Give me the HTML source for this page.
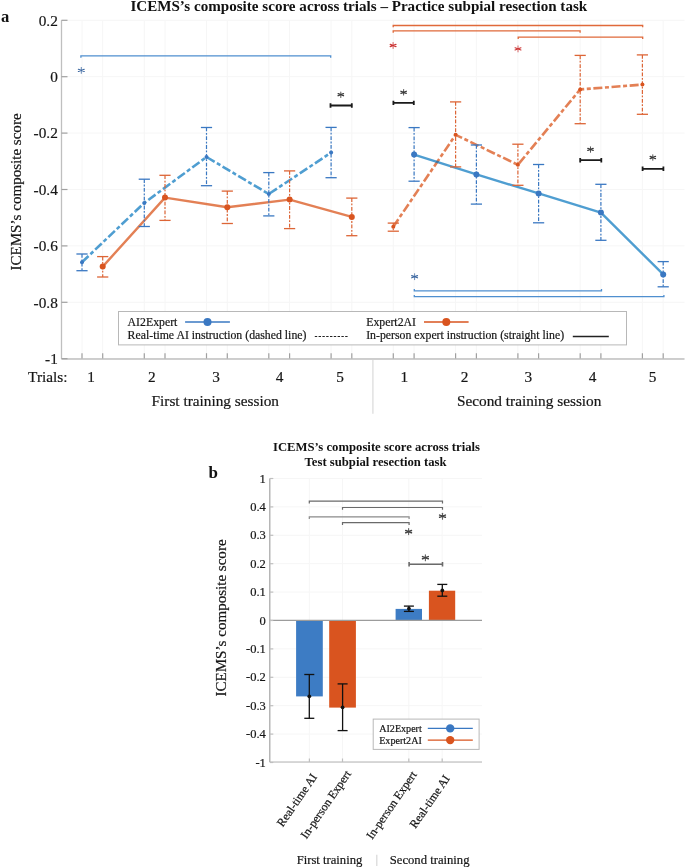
<!DOCTYPE html>
<html><head><meta charset="utf-8"><style>
html,body{margin:0;padding:0;background:#fff;}
svg{display:block;font-family:"Liberation Serif", serif;will-change:transform;}
text:not([font-weight]){stroke:#161616;stroke-width:0.2px;}
</style></head><body>
<svg width="685" height="868" viewBox="0 0 685 868">
<rect width="685" height="868" fill="#fff"/>
<line x1="61.5" y1="20.3" x2="684.5" y2="20.3" stroke="#f6f6f6" stroke-width="1"/>
<line x1="61.5" y1="76.7" x2="684.5" y2="76.7" stroke="#f6f6f6" stroke-width="1"/>
<line x1="61.5" y1="133.1" x2="684.5" y2="133.1" stroke="#f6f6f6" stroke-width="1"/>
<line x1="61.5" y1="189.5" x2="684.5" y2="189.5" stroke="#f6f6f6" stroke-width="1"/>
<line x1="61.5" y1="245.9" x2="684.5" y2="245.9" stroke="#f6f6f6" stroke-width="1"/>
<line x1="61.5" y1="302.3" x2="684.5" y2="302.3" stroke="#f6f6f6" stroke-width="1"/>
<line x1="61.5" y1="358.7" x2="684.5" y2="358.7" stroke="#f6f6f6" stroke-width="1"/>
<line x1="82.0" y1="20.3" x2="82.0" y2="358.7" stroke="#f6f6f6" stroke-width="1"/>
<line x1="102.7" y1="20.3" x2="102.7" y2="358.7" stroke="#f6f6f6" stroke-width="1"/>
<line x1="144.3" y1="20.3" x2="144.3" y2="358.7" stroke="#f6f6f6" stroke-width="1"/>
<line x1="165.0" y1="20.3" x2="165.0" y2="358.7" stroke="#f6f6f6" stroke-width="1"/>
<line x1="206.5" y1="20.3" x2="206.5" y2="358.7" stroke="#f6f6f6" stroke-width="1"/>
<line x1="227.3" y1="20.3" x2="227.3" y2="358.7" stroke="#f6f6f6" stroke-width="1"/>
<line x1="268.8" y1="20.3" x2="268.8" y2="358.7" stroke="#f6f6f6" stroke-width="1"/>
<line x1="289.6" y1="20.3" x2="289.6" y2="358.7" stroke="#f6f6f6" stroke-width="1"/>
<line x1="331.1" y1="20.3" x2="331.1" y2="358.7" stroke="#f6f6f6" stroke-width="1"/>
<line x1="351.8" y1="20.3" x2="351.8" y2="358.7" stroke="#f6f6f6" stroke-width="1"/>
<line x1="393.3" y1="20.3" x2="393.3" y2="358.7" stroke="#f6f6f6" stroke-width="1"/>
<line x1="414.1" y1="20.3" x2="414.1" y2="358.7" stroke="#f6f6f6" stroke-width="1"/>
<line x1="455.6" y1="20.3" x2="455.6" y2="358.7" stroke="#f6f6f6" stroke-width="1"/>
<line x1="476.4" y1="20.3" x2="476.4" y2="358.7" stroke="#f6f6f6" stroke-width="1"/>
<line x1="517.9" y1="20.3" x2="517.9" y2="358.7" stroke="#f6f6f6" stroke-width="1"/>
<line x1="538.6" y1="20.3" x2="538.6" y2="358.7" stroke="#f6f6f6" stroke-width="1"/>
<line x1="580.2" y1="20.3" x2="580.2" y2="358.7" stroke="#f6f6f6" stroke-width="1"/>
<line x1="600.9" y1="20.3" x2="600.9" y2="358.7" stroke="#f6f6f6" stroke-width="1"/>
<line x1="642.4" y1="20.3" x2="642.4" y2="358.7" stroke="#f6f6f6" stroke-width="1"/>
<line x1="663.2" y1="20.3" x2="663.2" y2="358.7" stroke="#f6f6f6" stroke-width="1"/>
<line x1="61.5" y1="20.3" x2="61.5" y2="358.7" stroke="#bfbfbf" stroke-width="1.3"/>
<line x1="61.5" y1="359" x2="684.5" y2="359" stroke="#bfbfbf" stroke-width="1.3"/>
<line x1="61.5" y1="20.3" x2="67.5" y2="20.3" stroke="#a0a0a0" stroke-width="1.2"/>
<line x1="61.5" y1="76.7" x2="67.5" y2="76.7" stroke="#a0a0a0" stroke-width="1.2"/>
<line x1="61.5" y1="133.1" x2="67.5" y2="133.1" stroke="#a0a0a0" stroke-width="1.2"/>
<line x1="61.5" y1="189.5" x2="67.5" y2="189.5" stroke="#a0a0a0" stroke-width="1.2"/>
<line x1="61.5" y1="245.9" x2="67.5" y2="245.9" stroke="#a0a0a0" stroke-width="1.2"/>
<line x1="61.5" y1="302.3" x2="67.5" y2="302.3" stroke="#a0a0a0" stroke-width="1.2"/>
<line x1="61.5" y1="358.7" x2="67.5" y2="358.7" stroke="#a0a0a0" stroke-width="1.2"/>
<line x1="82.0" y1="358.5" x2="82.0" y2="353.2" stroke="#a0a0a0" stroke-width="1.2"/>
<line x1="102.7" y1="358.5" x2="102.7" y2="353.2" stroke="#a0a0a0" stroke-width="1.2"/>
<line x1="144.3" y1="358.5" x2="144.3" y2="353.2" stroke="#a0a0a0" stroke-width="1.2"/>
<line x1="165.0" y1="358.5" x2="165.0" y2="353.2" stroke="#a0a0a0" stroke-width="1.2"/>
<line x1="206.5" y1="358.5" x2="206.5" y2="353.2" stroke="#a0a0a0" stroke-width="1.2"/>
<line x1="227.3" y1="358.5" x2="227.3" y2="353.2" stroke="#a0a0a0" stroke-width="1.2"/>
<line x1="268.8" y1="358.5" x2="268.8" y2="353.2" stroke="#a0a0a0" stroke-width="1.2"/>
<line x1="289.6" y1="358.5" x2="289.6" y2="353.2" stroke="#a0a0a0" stroke-width="1.2"/>
<line x1="331.1" y1="358.5" x2="331.1" y2="353.2" stroke="#a0a0a0" stroke-width="1.2"/>
<line x1="351.8" y1="358.5" x2="351.8" y2="353.2" stroke="#a0a0a0" stroke-width="1.2"/>
<line x1="393.3" y1="358.5" x2="393.3" y2="353.2" stroke="#a0a0a0" stroke-width="1.2"/>
<line x1="414.1" y1="358.5" x2="414.1" y2="353.2" stroke="#a0a0a0" stroke-width="1.2"/>
<line x1="455.6" y1="358.5" x2="455.6" y2="353.2" stroke="#a0a0a0" stroke-width="1.2"/>
<line x1="476.4" y1="358.5" x2="476.4" y2="353.2" stroke="#a0a0a0" stroke-width="1.2"/>
<line x1="517.9" y1="358.5" x2="517.9" y2="353.2" stroke="#a0a0a0" stroke-width="1.2"/>
<line x1="538.6" y1="358.5" x2="538.6" y2="353.2" stroke="#a0a0a0" stroke-width="1.2"/>
<line x1="580.2" y1="358.5" x2="580.2" y2="353.2" stroke="#a0a0a0" stroke-width="1.2"/>
<line x1="600.9" y1="358.5" x2="600.9" y2="353.2" stroke="#a0a0a0" stroke-width="1.2"/>
<line x1="642.4" y1="358.5" x2="642.4" y2="353.2" stroke="#a0a0a0" stroke-width="1.2"/>
<line x1="663.2" y1="358.5" x2="663.2" y2="353.2" stroke="#a0a0a0" stroke-width="1.2"/>
<text x="57.8" y="25.5" text-anchor="end" font-size="15.3" fill="#161616">0.2</text>
<text x="57.8" y="81.9" text-anchor="end" font-size="15.3" fill="#161616">0</text>
<text x="57.8" y="138.3" text-anchor="end" font-size="15.3" fill="#161616">-0.2</text>
<text x="57.8" y="194.7" text-anchor="end" font-size="15.3" fill="#161616">-0.4</text>
<text x="57.8" y="251.1" text-anchor="end" font-size="15.3" fill="#161616">-0.6</text>
<text x="57.8" y="307.5" text-anchor="end" font-size="15.3" fill="#161616">-0.8</text>
<text x="57.8" y="363.9" text-anchor="end" font-size="15.3" fill="#161616">-1</text>
<text x="91.2" y="382" text-anchor="middle" font-size="15.3" fill="#161616">1</text>
<text x="151.9" y="382" text-anchor="middle" font-size="15.3" fill="#161616">2</text>
<text x="216.0" y="382" text-anchor="middle" font-size="15.3" fill="#161616">3</text>
<text x="279.7" y="382" text-anchor="middle" font-size="15.3" fill="#161616">4</text>
<text x="340.0" y="382" text-anchor="middle" font-size="15.3" fill="#161616">5</text>
<text x="404.3" y="382" text-anchor="middle" font-size="15.3" fill="#161616">1</text>
<text x="464.5" y="382" text-anchor="middle" font-size="15.3" fill="#161616">2</text>
<text x="528.3" y="382" text-anchor="middle" font-size="15.3" fill="#161616">3</text>
<text x="592.5" y="382" text-anchor="middle" font-size="15.3" fill="#161616">4</text>
<text x="652.6" y="382" text-anchor="middle" font-size="15.3" fill="#161616">5</text>
<text x="67.5" y="382" text-anchor="end" font-size="15.3" fill="#161616">Trials:</text>
<text x="215.3" y="406.3" text-anchor="middle" font-size="15.3" fill="#161616">First training session</text>
<text x="529.2" y="406.3" text-anchor="middle" font-size="15.3" fill="#161616">Second training session</text>
<line x1="372.9" y1="360" x2="372.9" y2="413.8" stroke="#dcdcdc" stroke-width="1.3"/>
<text transform="translate(20.5,192.0) rotate(-90)" text-anchor="middle" font-size="15.05" fill="#161616">ICEMS’s composite score</text>
<text x="358.8" y="11.4" text-anchor="middle" font-size="15.1" font-weight="bold" fill="#111">ICEMS’s composite score across trials – Practice subpial resection task</text>
<text x="1" y="21.8" font-size="16.6" font-weight="bold" fill="#111">a</text>
<polyline points="82.0,262.2 144.3,202.9 206.5,157 268.8,194 331.1,152.6" fill="none" stroke="#0072bd" stroke-opacity="0.69" stroke-width="2.6" stroke-dasharray="9 2.6 4 2.6" stroke-linejoin="round"/>
<polyline points="102.7,266.6 165.0,197.6 227.3,207.2 289.6,199.6 351.8,216.9" fill="none" stroke="#d95319" stroke-opacity="0.74" stroke-width="2.4" stroke-linejoin="round"/>
<polyline points="393.3,226.7 455.6,134.8 517.9,164.8 580.2,89.4 642.4,84.6" fill="none" stroke="#d95319" stroke-opacity="0.74" stroke-width="2.6" stroke-dasharray="9 2.6 4 2.6" stroke-linejoin="round"/>
<polyline points="414.1,154.6 476.4,174.4 538.6,193.4 600.9,212.6 663.2,274.4" fill="none" stroke="#0072bd" stroke-opacity="0.69" stroke-width="2.4" stroke-linejoin="round"/>
<line x1="82.0" y1="254" x2="82.0" y2="270.7" stroke="#3a78c2" stroke-width="1.2" stroke-dasharray="3.8 1.6 1.8 1.6"/>
<line x1="76.4" y1="254" x2="87.6" y2="254" stroke="#3a78c2" stroke-width="1.3"/>
<line x1="76.4" y1="270.7" x2="87.6" y2="270.7" stroke="#3a78c2" stroke-width="1.3"/>
<line x1="144.3" y1="179.2" x2="144.3" y2="226.5" stroke="#3a78c2" stroke-width="1.2" stroke-dasharray="3.8 1.6 1.8 1.6"/>
<line x1="138.7" y1="179.2" x2="149.9" y2="179.2" stroke="#3a78c2" stroke-width="1.3"/>
<line x1="138.7" y1="226.5" x2="149.9" y2="226.5" stroke="#3a78c2" stroke-width="1.3"/>
<line x1="206.5" y1="127.5" x2="206.5" y2="185.7" stroke="#3a78c2" stroke-width="1.2" stroke-dasharray="3.8 1.6 1.8 1.6"/>
<line x1="200.9" y1="127.5" x2="212.1" y2="127.5" stroke="#3a78c2" stroke-width="1.3"/>
<line x1="200.9" y1="185.7" x2="212.1" y2="185.7" stroke="#3a78c2" stroke-width="1.3"/>
<line x1="268.8" y1="172.6" x2="268.8" y2="215.9" stroke="#3a78c2" stroke-width="1.2" stroke-dasharray="3.8 1.6 1.8 1.6"/>
<line x1="263.2" y1="172.6" x2="274.4" y2="172.6" stroke="#3a78c2" stroke-width="1.3"/>
<line x1="263.2" y1="215.9" x2="274.4" y2="215.9" stroke="#3a78c2" stroke-width="1.3"/>
<line x1="331.1" y1="127.4" x2="331.1" y2="177.7" stroke="#3a78c2" stroke-width="1.2" stroke-dasharray="3.8 1.6 1.8 1.6"/>
<line x1="325.5" y1="127.4" x2="336.7" y2="127.4" stroke="#3a78c2" stroke-width="1.3"/>
<line x1="325.5" y1="177.7" x2="336.7" y2="177.7" stroke="#3a78c2" stroke-width="1.3"/>
<line x1="414.1" y1="127.6" x2="414.1" y2="181.2" stroke="#3a78c2" stroke-width="1.2" stroke-dasharray="3.8 1.6 1.8 1.6"/>
<line x1="408.5" y1="127.6" x2="419.7" y2="127.6" stroke="#3a78c2" stroke-width="1.3"/>
<line x1="408.5" y1="181.2" x2="419.7" y2="181.2" stroke="#3a78c2" stroke-width="1.3"/>
<line x1="476.4" y1="145" x2="476.4" y2="204.1" stroke="#3a78c2" stroke-width="1.2" stroke-dasharray="3.8 1.6 1.8 1.6"/>
<line x1="470.8" y1="145" x2="482.0" y2="145" stroke="#3a78c2" stroke-width="1.3"/>
<line x1="470.8" y1="204.1" x2="482.0" y2="204.1" stroke="#3a78c2" stroke-width="1.3"/>
<line x1="538.6" y1="164.5" x2="538.6" y2="222.8" stroke="#3a78c2" stroke-width="1.2" stroke-dasharray="3.8 1.6 1.8 1.6"/>
<line x1="533.0" y1="164.5" x2="544.2" y2="164.5" stroke="#3a78c2" stroke-width="1.3"/>
<line x1="533.0" y1="222.8" x2="544.2" y2="222.8" stroke="#3a78c2" stroke-width="1.3"/>
<line x1="600.9" y1="184.3" x2="600.9" y2="240.3" stroke="#3a78c2" stroke-width="1.2" stroke-dasharray="3.8 1.6 1.8 1.6"/>
<line x1="595.3" y1="184.3" x2="606.5" y2="184.3" stroke="#3a78c2" stroke-width="1.3"/>
<line x1="595.3" y1="240.3" x2="606.5" y2="240.3" stroke="#3a78c2" stroke-width="1.3"/>
<line x1="663.2" y1="261.6" x2="663.2" y2="286.8" stroke="#3a78c2" stroke-width="1.2" stroke-dasharray="3.8 1.6 1.8 1.6"/>
<line x1="657.6" y1="261.6" x2="668.8" y2="261.6" stroke="#3a78c2" stroke-width="1.3"/>
<line x1="657.6" y1="286.8" x2="668.8" y2="286.8" stroke="#3a78c2" stroke-width="1.3"/>
<line x1="102.7" y1="256.6" x2="102.7" y2="277" stroke="#dd6536" stroke-width="1.2" stroke-dasharray="3.8 1.6 1.8 1.6"/>
<line x1="97.1" y1="256.6" x2="108.3" y2="256.6" stroke="#dd6536" stroke-width="1.3"/>
<line x1="97.1" y1="277" x2="108.3" y2="277" stroke="#dd6536" stroke-width="1.3"/>
<line x1="165.0" y1="175.3" x2="165.0" y2="220.4" stroke="#dd6536" stroke-width="1.2" stroke-dasharray="3.8 1.6 1.8 1.6"/>
<line x1="159.4" y1="175.3" x2="170.6" y2="175.3" stroke="#dd6536" stroke-width="1.3"/>
<line x1="159.4" y1="220.4" x2="170.6" y2="220.4" stroke="#dd6536" stroke-width="1.3"/>
<line x1="227.3" y1="191.1" x2="227.3" y2="223.5" stroke="#dd6536" stroke-width="1.2" stroke-dasharray="3.8 1.6 1.8 1.6"/>
<line x1="221.7" y1="191.1" x2="232.9" y2="191.1" stroke="#dd6536" stroke-width="1.3"/>
<line x1="221.7" y1="223.5" x2="232.9" y2="223.5" stroke="#dd6536" stroke-width="1.3"/>
<line x1="289.6" y1="170.9" x2="289.6" y2="228.6" stroke="#dd6536" stroke-width="1.2" stroke-dasharray="3.8 1.6 1.8 1.6"/>
<line x1="284.0" y1="170.9" x2="295.2" y2="170.9" stroke="#dd6536" stroke-width="1.3"/>
<line x1="284.0" y1="228.6" x2="295.2" y2="228.6" stroke="#dd6536" stroke-width="1.3"/>
<line x1="351.8" y1="198.1" x2="351.8" y2="235.7" stroke="#dd6536" stroke-width="1.2" stroke-dasharray="3.8 1.6 1.8 1.6"/>
<line x1="346.2" y1="198.1" x2="357.4" y2="198.1" stroke="#dd6536" stroke-width="1.3"/>
<line x1="346.2" y1="235.7" x2="357.4" y2="235.7" stroke="#dd6536" stroke-width="1.3"/>
<line x1="393.3" y1="223.1" x2="393.3" y2="231.2" stroke="#dd6536" stroke-width="1.2" stroke-dasharray="3.8 1.6 1.8 1.6"/>
<line x1="387.7" y1="223.1" x2="398.9" y2="223.1" stroke="#dd6536" stroke-width="1.3"/>
<line x1="387.7" y1="231.2" x2="398.9" y2="231.2" stroke="#dd6536" stroke-width="1.3"/>
<line x1="455.6" y1="101.9" x2="455.6" y2="166.9" stroke="#dd6536" stroke-width="1.2" stroke-dasharray="3.8 1.6 1.8 1.6"/>
<line x1="450.0" y1="101.9" x2="461.2" y2="101.9" stroke="#dd6536" stroke-width="1.3"/>
<line x1="450.0" y1="166.9" x2="461.2" y2="166.9" stroke="#dd6536" stroke-width="1.3"/>
<line x1="517.9" y1="144.2" x2="517.9" y2="185.3" stroke="#dd6536" stroke-width="1.2" stroke-dasharray="3.8 1.6 1.8 1.6"/>
<line x1="512.3" y1="144.2" x2="523.5" y2="144.2" stroke="#dd6536" stroke-width="1.3"/>
<line x1="512.3" y1="185.3" x2="523.5" y2="185.3" stroke="#dd6536" stroke-width="1.3"/>
<line x1="580.2" y1="55.4" x2="580.2" y2="123.7" stroke="#dd6536" stroke-width="1.2" stroke-dasharray="3.8 1.6 1.8 1.6"/>
<line x1="574.6" y1="55.4" x2="585.8" y2="55.4" stroke="#dd6536" stroke-width="1.3"/>
<line x1="574.6" y1="123.7" x2="585.8" y2="123.7" stroke="#dd6536" stroke-width="1.3"/>
<line x1="642.4" y1="54.9" x2="642.4" y2="114.3" stroke="#dd6536" stroke-width="1.2" stroke-dasharray="3.8 1.6 1.8 1.6"/>
<line x1="636.8" y1="54.9" x2="648.0" y2="54.9" stroke="#dd6536" stroke-width="1.3"/>
<line x1="636.8" y1="114.3" x2="648.0" y2="114.3" stroke="#dd6536" stroke-width="1.3"/>
<circle cx="82.0" cy="262.2" r="2.0" fill="#3a78c2"/>
<circle cx="144.3" cy="202.9" r="2.0" fill="#3a78c2"/>
<circle cx="206.5" cy="157" r="2.0" fill="#3a78c2"/>
<circle cx="268.8" cy="194" r="2.0" fill="#3a78c2"/>
<circle cx="331.1" cy="152.6" r="2.0" fill="#3a78c2"/>
<circle cx="393.3" cy="226.7" r="2.0" fill="#d9541f"/>
<circle cx="455.6" cy="134.8" r="2.0" fill="#d9541f"/>
<circle cx="517.9" cy="164.8" r="2.0" fill="#d9541f"/>
<circle cx="580.2" cy="89.4" r="2.0" fill="#d9541f"/>
<circle cx="642.4" cy="84.6" r="2.0" fill="#d9541f"/>
<circle cx="102.7" cy="266.6" r="3.0" fill="#d9541f"/>
<circle cx="165.0" cy="197.6" r="3.0" fill="#d9541f"/>
<circle cx="227.3" cy="207.2" r="3.0" fill="#d9541f"/>
<circle cx="289.6" cy="199.6" r="3.0" fill="#d9541f"/>
<circle cx="351.8" cy="216.9" r="3.0" fill="#d9541f"/>
<circle cx="414.1" cy="154.6" r="3.0" fill="#3a78c2"/>
<circle cx="476.4" cy="174.4" r="3.0" fill="#3a78c2"/>
<circle cx="538.6" cy="193.4" r="3.0" fill="#3a78c2"/>
<circle cx="600.9" cy="212.6" r="3.0" fill="#3a78c2"/>
<circle cx="663.2" cy="274.4" r="3.0" fill="#3a78c2"/>
<path d="M330.5,103.3 V107.7 M330.5,105.5 H351.8 M351.8,103.3 V107.7" fill="none" stroke="#1a1a1a" stroke-width="1.8"/>
<path d="M338.13,93.69 L343.47,95.71 M338.13,95.71 L343.47,93.69" stroke="#3a3a3a" stroke-width="1.35" stroke-linecap="round"/>
<path d="M340.80,91.94 L340.80,97.46" stroke="#3a3a3a" stroke-width="1.01" stroke-linecap="round" opacity="0.85"/>
<path d="M393.4,100.7 V105.10000000000001 M393.4,102.9 H413.8 M413.8,100.7 V105.10000000000001" fill="none" stroke="#1a1a1a" stroke-width="1.8"/>
<path d="M400.93,91.29 L406.27,93.31 M400.93,93.31 L406.27,91.29" stroke="#3a3a3a" stroke-width="1.35" stroke-linecap="round"/>
<path d="M403.60,89.54 L403.60,95.06" stroke="#3a3a3a" stroke-width="1.01" stroke-linecap="round" opacity="0.85"/>
<path d="M580.2,158.0 V162.39999999999998 M580.2,160.2 H601.3 M601.3,158.0 V162.39999999999998" fill="none" stroke="#1a1a1a" stroke-width="1.8"/>
<path d="M587.83,148.39 L593.17,150.41 M587.83,150.41 L593.17,148.39" stroke="#3a3a3a" stroke-width="1.35" stroke-linecap="round"/>
<path d="M590.50,146.64 L590.50,152.16" stroke="#3a3a3a" stroke-width="1.01" stroke-linecap="round" opacity="0.85"/>
<path d="M642.6,166.60000000000002 V171.0 M642.6,168.8 H663.4 M663.4,166.60000000000002 V171.0" fill="none" stroke="#1a1a1a" stroke-width="1.8"/>
<path d="M650.13,156.49 L655.47,158.51 M650.13,158.51 L655.47,156.49" stroke="#3a3a3a" stroke-width="1.35" stroke-linecap="round"/>
<path d="M652.80,154.74 L652.80,160.26" stroke="#3a3a3a" stroke-width="1.01" stroke-linecap="round" opacity="0.85"/>
<path d="M80.9,57.699999999999996 V55.9 H330.7 V57.699999999999996" fill="none" stroke="#4f8fcf" stroke-width="1.3"/>
<path d="M78.40,69.30 L84.20,71.50 M78.40,71.50 L84.20,69.30" stroke="#3a66a0" stroke-width="1.2" stroke-linecap="round"/>
<path d="M81.30,67.40 L81.30,73.40" stroke="#3a66a0" stroke-width="0.90" stroke-linecap="round" opacity="0.85"/>
<path d="M414.3,289.09999999999997 V290.9 H601.5 V289.09999999999997" fill="none" stroke="#4f8fcf" stroke-width="1.3"/>
<path d="M414.3,294.9 V296.7 H663.9 V294.9" fill="none" stroke="#4f8fcf" stroke-width="1.3"/>
<path d="M411.70,275.60 L417.50,277.80 M411.70,277.80 L417.50,275.60" stroke="#3a66a0" stroke-width="1.2" stroke-linecap="round"/>
<path d="M414.60,273.70 L414.60,279.70" stroke="#3a66a0" stroke-width="0.90" stroke-linecap="round" opacity="0.85"/>
<path d="M393.2,27.3 V25.5 H642.7 V27.3" fill="none" stroke="#e0693a" stroke-width="1.3"/>
<path d="M393.2,32.699999999999996 V30.9 H580.1 V32.699999999999996" fill="none" stroke="#e0693a" stroke-width="1.3"/>
<path d="M518.2,39.0 V37.2 H642.7 V39.0" fill="none" stroke="#e0693a" stroke-width="1.3"/>
<path d="M390.20,44.40 L396.00,46.60 M390.20,46.60 L396.00,44.40" stroke="#cc3535" stroke-width="1.2" stroke-linecap="round"/>
<path d="M393.10,42.50 L393.10,48.50" stroke="#cc3535" stroke-width="0.90" stroke-linecap="round" opacity="0.85"/>
<path d="M515.10,47.80 L520.90,50.00 M515.10,50.00 L520.90,47.80" stroke="#cc3535" stroke-width="1.2" stroke-linecap="round"/>
<path d="M518.00,45.90 L518.00,51.90" stroke="#cc3535" stroke-width="0.90" stroke-linecap="round" opacity="0.85"/>
<rect x="118.5" y="311.5" width="508" height="33.4" fill="#fff" stroke="#b8b8b8" stroke-width="1"/>
<text x="127.6" y="325.6" font-size="11.8" fill="#161616">AI2Expert</text>
<line x1="185.1" y1="322" x2="229.9" y2="322" stroke="#3a78c2" stroke-width="1.5"/>
<circle cx="207.5" cy="322" r="4" fill="#3a78c2"/>
<text x="127.6" y="339" font-size="11.8" fill="#161616">Real-time AI instruction (dashed line)</text>
<line x1="314.8" y1="336.5" x2="348.8" y2="336.5" stroke="#222" stroke-width="1" stroke-dasharray="2.4 1.4"/>
<text x="366.2" y="325.6" font-size="11.8" fill="#161616">Expert2AI</text>
<line x1="424" y1="321.9" x2="468.6" y2="321.9" stroke="#d9541f" stroke-width="1.5"/>
<circle cx="446.3" cy="321.9" r="4" fill="#d9541f"/>
<text x="366.2" y="339" font-size="11.8" fill="#161616">In-person expert instruction (straight line)</text>
<line x1="572.8" y1="336.5" x2="608.8" y2="336.5" stroke="#222" stroke-width="1.5"/>
<line x1="269.8" y1="478.5" x2="482" y2="478.5" stroke="#f6f6f6" stroke-width="1"/>
<line x1="269.8" y1="506.9" x2="482" y2="506.9" stroke="#f6f6f6" stroke-width="1"/>
<line x1="269.8" y1="535.3" x2="482" y2="535.3" stroke="#f6f6f6" stroke-width="1"/>
<line x1="269.8" y1="563.7" x2="482" y2="563.7" stroke="#f6f6f6" stroke-width="1"/>
<line x1="269.8" y1="592.1" x2="482" y2="592.1" stroke="#f6f6f6" stroke-width="1"/>
<line x1="269.8" y1="620.5" x2="482" y2="620.5" stroke="#f6f6f6" stroke-width="1"/>
<line x1="269.8" y1="648.9" x2="482" y2="648.9" stroke="#f6f6f6" stroke-width="1"/>
<line x1="269.8" y1="677.3" x2="482" y2="677.3" stroke="#f6f6f6" stroke-width="1"/>
<line x1="269.8" y1="705.7" x2="482" y2="705.7" stroke="#f6f6f6" stroke-width="1"/>
<line x1="269.8" y1="734.1" x2="482" y2="734.1" stroke="#f6f6f6" stroke-width="1"/>
<line x1="269.8" y1="762.5" x2="482" y2="762.5" stroke="#f6f6f6" stroke-width="1"/>
<line x1="309.4" y1="478.4" x2="309.4" y2="762" stroke="#f6f6f6" stroke-width="1"/>
<line x1="342.5" y1="478.4" x2="342.5" y2="762" stroke="#f6f6f6" stroke-width="1"/>
<line x1="408.8" y1="478.4" x2="408.8" y2="762" stroke="#f6f6f6" stroke-width="1"/>
<line x1="442.2" y1="478.4" x2="442.2" y2="762" stroke="#f6f6f6" stroke-width="1"/>
<rect x="296.1" y="620.5" width="26.7" height="75.9" fill="#3d7cc4"/>
<rect x="329.2" y="620.5" width="26.7" height="87.1" fill="#d9541f"/>
<rect x="395.6" y="608.9" width="26.4" height="11.6" fill="#3d7cc4"/>
<rect x="428.9" y="590.7" width="26.3" height="29.8" fill="#d9541f"/>
<line x1="269.8" y1="620.4" x2="482" y2="620.4" stroke="#9c9c9c" stroke-width="1.2"/>
<line x1="269.8" y1="478.4" x2="269.8" y2="762" stroke="#a4a4a4" stroke-width="1.2"/>
<line x1="269.8" y1="762" x2="482" y2="762" stroke="#b4b4b4" stroke-width="1.2"/>
<line x1="269.8" y1="478.5" x2="273.3" y2="478.5" stroke="#bfbfbf" stroke-width="1.2"/>
<text x="265.8" y="482.6" text-anchor="end" font-size="12.5" fill="#161616">1</text>
<line x1="269.8" y1="506.9" x2="273.3" y2="506.9" stroke="#bfbfbf" stroke-width="1.2"/>
<text x="265.8" y="511.0" text-anchor="end" font-size="12.5" fill="#161616">0.4</text>
<line x1="269.8" y1="535.3" x2="273.3" y2="535.3" stroke="#bfbfbf" stroke-width="1.2"/>
<text x="265.8" y="539.4" text-anchor="end" font-size="12.5" fill="#161616">0.3</text>
<line x1="269.8" y1="563.7" x2="273.3" y2="563.7" stroke="#bfbfbf" stroke-width="1.2"/>
<text x="265.8" y="567.8" text-anchor="end" font-size="12.5" fill="#161616">0.2</text>
<line x1="269.8" y1="592.1" x2="273.3" y2="592.1" stroke="#bfbfbf" stroke-width="1.2"/>
<text x="265.8" y="596.2" text-anchor="end" font-size="12.5" fill="#161616">0.1</text>
<line x1="269.8" y1="620.5" x2="273.3" y2="620.5" stroke="#bfbfbf" stroke-width="1.2"/>
<text x="265.8" y="624.6" text-anchor="end" font-size="12.5" fill="#161616">0</text>
<line x1="269.8" y1="648.9" x2="273.3" y2="648.9" stroke="#bfbfbf" stroke-width="1.2"/>
<text x="265.8" y="653.0" text-anchor="end" font-size="12.5" fill="#161616">-0.1</text>
<line x1="269.8" y1="677.3" x2="273.3" y2="677.3" stroke="#bfbfbf" stroke-width="1.2"/>
<text x="265.8" y="681.4" text-anchor="end" font-size="12.5" fill="#161616">-0.2</text>
<line x1="269.8" y1="705.7" x2="273.3" y2="705.7" stroke="#bfbfbf" stroke-width="1.2"/>
<text x="265.8" y="709.8" text-anchor="end" font-size="12.5" fill="#161616">-0.3</text>
<line x1="269.8" y1="734.1" x2="273.3" y2="734.1" stroke="#bfbfbf" stroke-width="1.2"/>
<text x="265.8" y="738.2" text-anchor="end" font-size="12.5" fill="#161616">-0.4</text>
<line x1="269.8" y1="762.5" x2="273.3" y2="762.5" stroke="#bfbfbf" stroke-width="1.2"/>
<text x="265.8" y="766.6" text-anchor="end" font-size="12.5" fill="#161616">-1</text>
<line x1="309.4" y1="762" x2="309.4" y2="758.5" stroke="#bfbfbf" stroke-width="1.2"/>
<line x1="342.5" y1="762" x2="342.5" y2="758.5" stroke="#bfbfbf" stroke-width="1.2"/>
<line x1="408.8" y1="762" x2="408.8" y2="758.5" stroke="#bfbfbf" stroke-width="1.2"/>
<line x1="442.2" y1="762" x2="442.2" y2="758.5" stroke="#bfbfbf" stroke-width="1.2"/>
<line x1="309.3" y1="674.5" x2="309.3" y2="718.3" stroke="#111" stroke-width="1.3"/>
<line x1="304.3" y1="674.5" x2="314.3" y2="674.5" stroke="#111" stroke-width="1.3"/>
<line x1="304.3" y1="718.3" x2="314.3" y2="718.3" stroke="#111" stroke-width="1.3"/>
<circle cx="309.3" cy="696.3" r="1.9" fill="#111"/>
<line x1="342.6" y1="683.9" x2="342.6" y2="730.6" stroke="#111" stroke-width="1.3"/>
<line x1="337.6" y1="683.9" x2="347.6" y2="683.9" stroke="#111" stroke-width="1.3"/>
<line x1="337.6" y1="730.6" x2="347.6" y2="730.6" stroke="#111" stroke-width="1.3"/>
<circle cx="342.6" cy="707.3" r="1.9" fill="#111"/>
<line x1="408.9" y1="606.1" x2="408.9" y2="611.4" stroke="#111" stroke-width="1.3"/>
<line x1="403.9" y1="606.1" x2="413.9" y2="606.1" stroke="#111" stroke-width="1.3"/>
<line x1="403.9" y1="611.4" x2="413.9" y2="611.4" stroke="#111" stroke-width="1.3"/>
<circle cx="408.9" cy="608.6" r="1.9" fill="#111"/>
<line x1="442.3" y1="584.4" x2="442.3" y2="596.2" stroke="#111" stroke-width="1.3"/>
<line x1="437.3" y1="584.4" x2="447.3" y2="584.4" stroke="#111" stroke-width="1.3"/>
<line x1="437.3" y1="596.2" x2="447.3" y2="596.2" stroke="#111" stroke-width="1.3"/>
<circle cx="442.3" cy="590.4" r="1.9" fill="#111"/>
<path d="M309.3,503.4 V501.2 H442.5 V503.4" fill="none" stroke="#6a6a6a" stroke-width="1.2"/>
<path d="M342.5,509.7 V507.5 H442.5 V509.7" fill="none" stroke="#6a6a6a" stroke-width="1.2"/>
<path d="M309.3,519.1 V516.9 H409.1 V519.1" fill="none" stroke="#8a8a8a" stroke-width="1.2"/>
<path d="M342.5,524.9000000000001 V522.7 H409.1 V524.9000000000001" fill="none" stroke="#6a6a6a" stroke-width="1.2"/>
<path d="M409.1,562.0999999999999 V566.5 M409.1,564.3 H442.5 M442.5,562.0999999999999 V566.5" fill="none" stroke="#6a6a6a" stroke-width="1.6"/>
<path d="M439.60,515.10 L445.40,517.30 M439.60,517.30 L445.40,515.10" stroke="#444" stroke-width="1.5" stroke-linecap="round"/>
<path d="M442.50,513.20 L442.50,519.20" stroke="#444" stroke-width="1.12" stroke-linecap="round" opacity="0.85"/>
<path d="M405.70,530.50 L411.50,532.70 M405.70,532.70 L411.50,530.50" stroke="#444" stroke-width="1.5" stroke-linecap="round"/>
<path d="M408.60,528.60 L408.60,534.60" stroke="#444" stroke-width="1.12" stroke-linecap="round" opacity="0.85"/>
<path d="M422.50,556.60 L428.30,558.80 M422.50,558.80 L428.30,556.60" stroke="#444" stroke-width="1.5" stroke-linecap="round"/>
<path d="M425.40,554.70 L425.40,560.70" stroke="#444" stroke-width="1.12" stroke-linecap="round" opacity="0.85"/>
<rect x="373.2" y="719.1" width="105.9" height="30.3" fill="#fff" stroke="#b8b8b8" stroke-width="1"/>
<text x="379.2" y="732" font-size="10.1" fill="#161616">AI2Expert</text>
<text x="379.2" y="743.6" font-size="10.1" fill="#161616">Expert2AI</text>
<line x1="427.8" y1="728.4" x2="472.8" y2="728.4" stroke="#3a78c2" stroke-width="1.3"/>
<circle cx="450.2" cy="728.4" r="4.2" fill="#3a78c2"/>
<line x1="427.8" y1="740.1" x2="472.8" y2="740.1" stroke="#d9541f" stroke-width="1.3"/>
<circle cx="450.2" cy="740.1" r="4.2" fill="#d9541f"/>
<text x="376.5" y="451.2" text-anchor="middle" font-size="12.7" font-weight="bold" fill="#111">ICEMS’s composite score across trials</text>
<text x="375.6" y="466.2" text-anchor="middle" font-size="12.7" font-weight="bold" fill="#111">Test subpial resection task</text>
<text x="208.6" y="478.3" font-size="17" font-weight="bold" fill="#111">b</text>
<text transform="translate(226.1,618.0) rotate(-90)" text-anchor="middle" font-size="15.05" fill="#161616">ICEMS’s composite score</text>
<text transform="translate(317.5,777) rotate(-55.5)" text-anchor="end" font-size="11.8" fill="#161616">Real-time AI</text>
<text transform="translate(351.5,773.8) rotate(-55.5)" text-anchor="end" font-size="11.8" fill="#161616">In-person Expert</text>
<text transform="translate(417.3,774.5) rotate(-55.5)" text-anchor="end" font-size="11.8" fill="#161616">In-person Expert</text>
<text transform="translate(450.2,778.5) rotate(-55.5)" text-anchor="end" font-size="11.8" fill="#161616">Real-time AI</text>
<text x="329.5" y="864.4" text-anchor="middle" font-size="12.65" fill="#161616">First training</text>
<text x="429.65" y="864.4" text-anchor="middle" font-size="12.65" fill="#161616">Second training</text>
<line x1="376.8" y1="854.7" x2="376.8" y2="866" stroke="#d8d8d8" stroke-width="1.2"/>
</svg></body></html>
